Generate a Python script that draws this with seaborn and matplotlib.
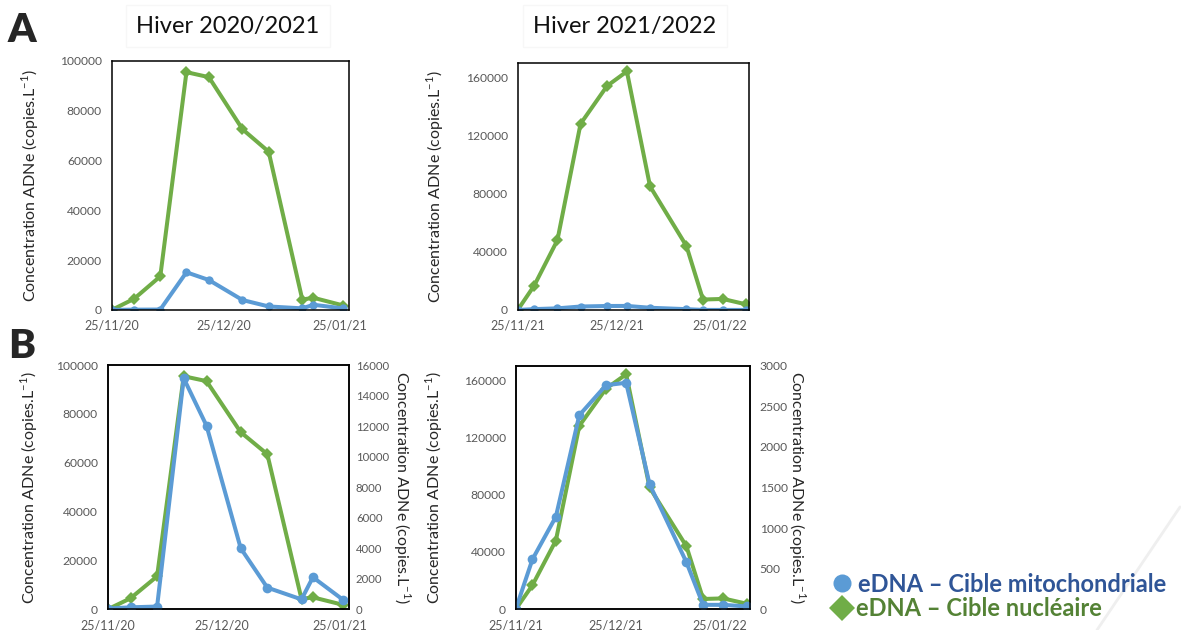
import matplotlib
matplotlib.use("Agg")
import matplotlib.pyplot as plt
import matplotlib.dates as mdates
from matplotlib.lines import Line2D
import seaborn as sns
import pandas as pd
import numpy as np

sns.set_style("white")
plt.rcParams['font.family'] = ['Lato', 'DejaVu Sans']

# Hiver 2020/2021
dates_a = ['2020-11-25', '2020-12-01', '2020-12-08', '2020-12-15', '2020-12-21',
           '2020-12-30', '2021-01-06', '2021-01-15', '2021-01-18', '2021-01-26']
mito_a = [50, 130, 180, 15130, 12030, 4000, 1420, 650, 2100, 610]
nuc_a = [0, 4500, 13500, 95400, 93400, 72500, 63500, 4200, 4900, 1800]

# Hiver 2021/2022
dates_b = ['2021-11-25', '2021-11-30', '2021-12-07', '2021-12-14', '2021-12-22',
           '2021-12-28', '2022-01-04', '2022-01-15', '2022-01-20', '2022-01-26', '2022-02-02']
mito_b = [0, 615, 1140, 2390, 2760, 2790, 1540, 580, 55, 55, 35]
nuc_b = [0, 16800, 48000, 128000, 154000, 164000, 85000, 44000, 7200, 7600, 3900]

titles = ['Hiver 2020/2021', 'Hiver 2021/2022']
ylab = 'Concentration ADNe (copies.L$^{\\mathregular{-1}}$)'
leg_labels = ['eDNA \u2013 Cible mitochondriale', 'eDNA \u2013 Cible nucléaire']

BLUE = '#5B9BD5'
GREEN = '#70AD47'
TICK_C = '#595959'

fig = plt.figure(figsize=(11.81, 6.3), dpi=100)
W, H = 1181, 630


def make_ax(x0, x1, y0, y1):
    return fig.add_axes([x0 / W, 1 - y1 / H, (x1 - x0) / W, (y1 - y0) / H])


def style(ax, xticks, xlim, ylim, yticks, ysize=8.7, ypad=7):
    ax.set_xlim(xlim)
    ax.set_ylim(ylim)
    ax.set_yticks(yticks)
    ax.set_xticks(xticks)
    ax.xaxis.set_major_formatter(mdates.DateFormatter('%d/%m/%y'))
    ax.tick_params(axis='x', length=4, width=1, color='black', labelsize=9,
                   labelcolor=TICK_C, pad=3)
    ax.tick_params(axis='y', length=0, labelsize=ysize, labelcolor=TICK_C, pad=ypad)
    for s in ax.spines.values():
        s.set_color('black')
        s.set_linewidth(1.1)
    ax.set_xlabel('')
    ax.set_ylabel(ylab, fontsize=11.5, color='#262626')


def line(ax, d, v, color, marker, ms):
    sns.lineplot(x=pd.to_datetime(d), y=v, ax=ax, color=color, marker=marker,
                 markersize=ms, markeredgewidth=0, linewidth=2.9,
                 estimator=None, sort=False)


ticks_a = pd.to_datetime(['2020-11-25', '2020-12-25', '2021-01-25'])
ticks_b = pd.to_datetime(['2021-11-25', '2021-12-25', '2022-01-25'])
xlim_a = (pd.Timestamp('2020-11-25'), pd.Timestamp('2021-01-27 12:00'))
xlim_b = (pd.Timestamp('2021-11-25'), pd.Timestamp('2022-02-03'))

# A: both targets on the same axis
ax1 = make_ax(111.7, 349, 60.7, 310)
line(ax1, dates_a, nuc_a, GREEN, 'D', 6)
line(ax1, dates_a, mito_a, BLUE, 'o', 6)
style(ax1, ticks_a, xlim_a, (0, 100000), np.arange(0, 100001, 20000))
ax1.yaxis.set_label_coords(-0.30, 0.5)

ax2 = make_ax(517.7, 749.3, 62.7, 310)
line(ax2, dates_b, nuc_b, GREEN, 'D', 6)
line(ax2, dates_b, mito_b, BLUE, 'o', 6)
style(ax2, ticks_b, xlim_b, (0, 170000), np.arange(0, 160001, 40000))
ax2.yaxis.set_label_coords(-0.31, 0.5)

# B: secondary axis for the mitochondrial target
ax3 = make_ax(107.7, 349, 365, 609.3)
line(ax3, dates_a, nuc_a, GREEN, 'D', 6)
style(ax3, ticks_a, xlim_a, (0, 100000), np.arange(0, 100001, 20000))
ax3.yaxis.set_label_coords(-0.28, 0.5)
ax3b = ax3.twinx()
line(ax3b, dates_a, mito_a, BLUE, 'o', 7)
style(ax3b, ticks_a, xlim_a, (0, 16000), np.arange(0, 16001, 2000), ysize=8.2, ypad=5)
ax3b.set_ylabel(ylab, fontsize=11.5, color='#262626', rotation=-90)
ax3b.yaxis.set_label_coords(1.265, 0.5)

ax4 = make_ax(515.7, 750, 365.7, 609.3)
line(ax4, dates_b, nuc_b, GREEN, 'D', 6)
style(ax4, ticks_b, xlim_b, (0, 170000), np.arange(0, 160001, 40000))
ax4.yaxis.set_label_coords(-0.30, 0.5)
ax4b = ax4.twinx()
line(ax4b, dates_b, mito_b, BLUE, 'o', 7)
style(ax4b, ticks_b, xlim_b, (0, 3000), np.arange(0, 3001, 500))
ax4b.set_ylabel(ylab, fontsize=11.5, color='#262626', rotation=-90)
ax4b.yaxis.set_label_coords(1.245, 0.5)

# titles and panel letters
for x, t in zip([228, 625], titles):
    fig.text(x / W, 1 - 26 / H, t, ha='center', va='center', fontsize=17, color='#111111',
             bbox=dict(boxstyle='square,pad=0.45', fc='white', ec='#f7f7f7', lw=1))
fig.text(22 / W, 1 - 30 / H, 'A', ha='center', va='center', fontsize=29, fontweight='heavy')
fig.text(22 / W, 1 - 347 / H, 'B', ha='center', va='center', fontsize=29, fontweight='heavy')

# legend
fig.add_artist(Line2D([842 / W], [1 - 583 / H], marker='o', markersize=13,
                      color=BLUE, markeredgewidth=0, transform=fig.transFigure))
fig.add_artist(Line2D([842 / W], [1 - 608 / H], marker='D', markersize=13,
                      color=GREEN, markeredgewidth=0, transform=fig.transFigure))
fig.text(858 / W, 1 - 584 / H, leg_labels[0], ha='left', va='center',
         fontsize=17, fontweight='bold', color='#2F5597')
fig.text(856 / W, 1 - 609 / H, leg_labels[1], ha='left', va='center',
         fontsize=17, fontweight='bold', color='#548235')

# faint slide decoration
fig.add_artist(Line2D([1180 / W, 1097 / W], [1 - 507 / H, 0], color='#efefef', lw=2,
                      transform=fig.transFigure, zorder=0))

fig.savefig('out.png', dpi=100)
